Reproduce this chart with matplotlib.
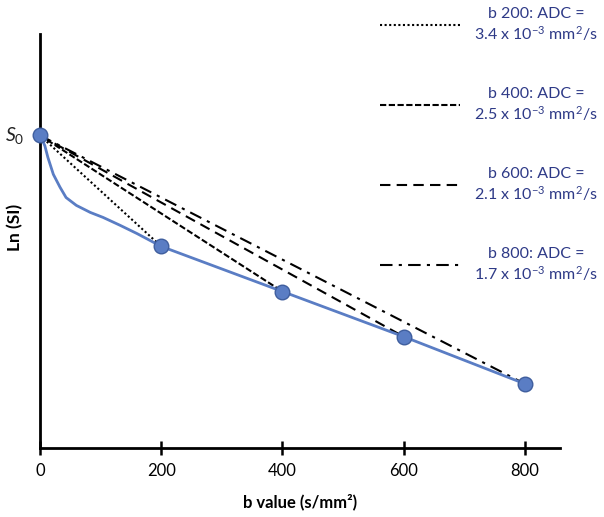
import matplotlib
matplotlib.use('Agg')
import matplotlib.pyplot as plt

# ln(SI) in arbitrary units
b_points = [0, 200, 400, 600, 800]
ln_points = [7.55, 4.87, 3.78, 2.69, 1.55]
# biexponential-looking knee between b=0 and b=200
b_curve = [0, 2, 8, 13, 22, 33, 43, 60, 83, 104, 132, 160, 200, 400, 600, 800]
ln_curve = [7.55, 7.50, 7.30, 7.02, 6.61, 6.30, 6.05, 5.86, 5.69, 5.57, 5.38, 5.18, 4.87, 3.78, 2.69, 1.55]
x_ticks = [0, 200, 400, 600, 800]
adc_labels = ['b 200: ADC =\n3.4 x 10$^{-3}$ mm$^{2}$/s',
              'b 400: ADC =\n2.5 x 10$^{-3}$ mm$^{2}$/s',
              'b 600: ADC =\n2.1 x 10$^{-3}$ mm$^{2}$/s',
              'b 800: ADC =\n1.7 x 10$^{-3}$ mm$^{2}$/s']
fit_styles = [(0, (1, 1.2)), (0, (3, 1.2)), (0, (5, 3)), (0, (6, 3, 1.5, 3))]

plt.rcParams['font.family'] = ['Lato', 'DejaVu Sans']
plt.rcParams['mathtext.fontset'] = 'custom'
plt.rcParams['mathtext.rm'] = 'Lato'
plt.rcParams['mathtext.it'] = 'Lato:italic'
plt.rcParams['mathtext.bf'] = 'Lato:bold'

fig = plt.figure(figsize=(6.04, 5.17), dpi=100)
ax = fig.add_axes([40/604, 69/517, 520/604, 414/517])

blue = '#5A7DC4'
handles = []
for i, (bb, ls) in enumerate(zip(b_points[1:], fit_styles)):
    h, = ax.plot([b_points[0], bb], [ln_points[0], ln_points[i+1]], color='black', lw=1.5, linestyle=ls, zorder=2)
    handles.append(h)
ax.plot(b_curve, ln_curve, color=blue, lw=2, zorder=3)
ax.plot(b_points, ln_points, 'o', color=blue, ms=10.5, mec='#3F5E9E', mew=1, zorder=4, clip_on=False)

ax.set_xlim(0, 858)
ax.set_ylim(0, 10)
for s in ['top', 'right']:
    ax.spines[s].set_visible(False)
for s in ['left', 'bottom']:
    ax.spines[s].set_linewidth(2)
ax.set_yticks([])
ax.set_xticks(x_ticks)
ax.tick_params(axis='x', direction='inout', length=10, width=1.8, pad=6, labelsize=12)
ax.set_xlabel('b value (s/mm²)', fontsize=12, fontweight='bold', labelpad=10)
ax.set_ylabel('Ln (SI)', fontsize=12.5, fontweight='bold')
ax.yaxis.set_label_coords(-0.032, 0.533)
ax.annotate('$S_0$', xy=(0, ln_points[0]), xytext=(-11, 0), textcoords='offset points',
            ha='right', va='center', fontsize=14, color='#222222')

leg = ax.legend(handles, adc_labels, loc='upper left', bbox_to_anchor=(380/604, 1-7/517),
                bbox_transform=fig.transFigure, frameon=False, fontsize=11.5, handlelength=5.0,
                handletextpad=0.9, labelspacing=2.75, borderpad=0, borderaxespad=0)
for t in leg.get_texts():
    t.set_multialignment('center')
    t.set_color('#2E3A87')

fig.savefig('out.png', dpi=100)
